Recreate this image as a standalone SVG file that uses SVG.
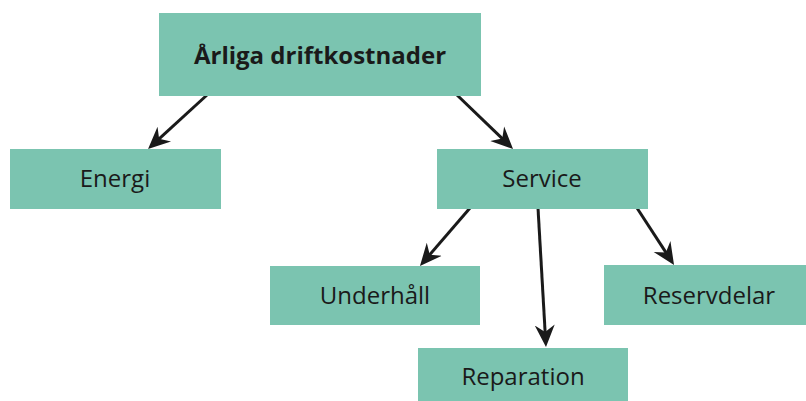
<svg xmlns="http://www.w3.org/2000/svg" width="806" height="401" viewBox="0 0 806 401">
<style>
.box{fill:#7bc4b0}
.t{font-family:"Open Sans","Noto Sans",sans-serif;font-size:24px;fill:#1a1a1a;text-anchor:middle}
.b{font-weight:bold}
.c{stroke:#1a1a1a;stroke-width:3;fill:none;marker-end:url(#ah)}
</style>
<defs>
<marker id="ah" markerUnits="userSpaceOnUse" markerWidth="24" markerHeight="24" viewBox="0 -11 24 22" refX="10" refY="0" orient="auto">
<path d="M0,-10 L22,0 L0,10 L7,0 Z" fill="#1a1a1a"/>
</marker>
</defs>
<rect width="806" height="401" fill="#ffffff"/>
<g id="connectors">
<line class="c" x1="207" y1="95" x2="156.9" y2="140.9"/>
<line class="c" x1="457" y1="95" x2="504.4" y2="140.7"/>
<line class="c" x1="470" y1="208" x2="427.8" y2="256.9"/>
<line class="c" x1="538" y1="208" x2="545.3" y2="335"/>
<line class="c" x1="637" y1="208" x2="667.5" y2="254.9"/>
</g>
<g id="arliga">
<rect class="box" x="159" y="13" width="322" height="83"/>
<text class="t b" x="320" y="64">Årliga driftkostnader</text>
</g>
<g id="energi">
<rect class="box" x="10" y="149" width="211" height="60"/>
<text class="t" x="115" y="187">Energi</text>
</g>
<g id="service">
<rect class="box" x="437" y="149" width="211" height="60"/>
<text class="t" x="542" y="187">Service</text>
</g>
<g id="underhall">
<rect class="box" x="270" y="266" width="210" height="59"/>
<text class="t" x="375" y="304">Underhåll</text>
</g>
<g id="reparation">
<rect class="box" x="418" y="348" width="210" height="60"/>
<text class="t" x="523" y="385">Reparation</text>
</g>
<g id="reservdelar">
<rect class="box" x="604" y="265" width="210" height="60"/>
<text class="t" x="709" y="304">Reservdelar</text>
</g>
</svg>
